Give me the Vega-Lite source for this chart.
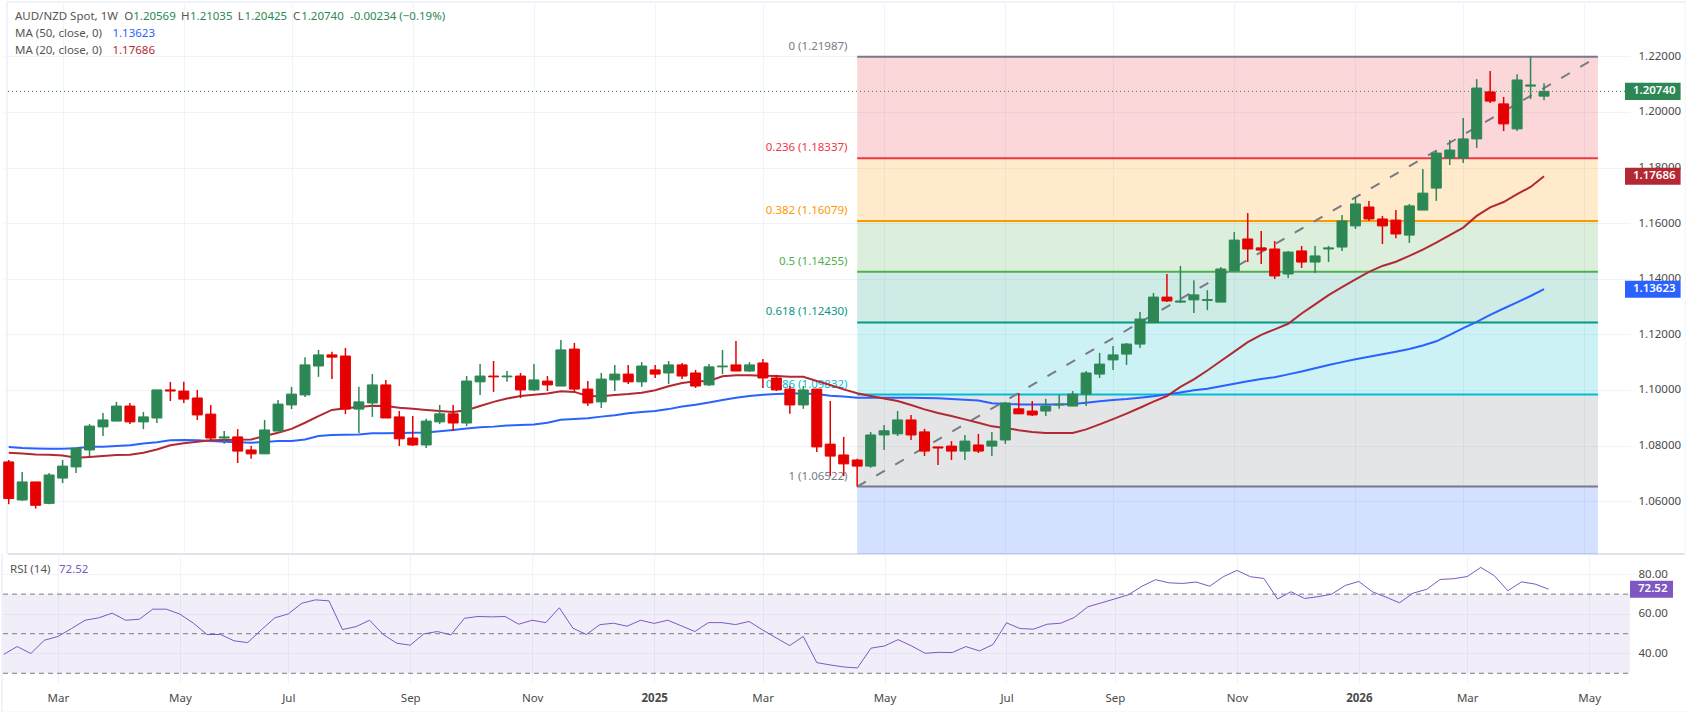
{
  "$schema": "https://vega.github.io/schema/vega-lite/v6.json",
  "padding": 0,
  "background": "white",
  "spacing": 0,
  "bounds": "flush",
  "config": {
    "view": {"stroke": null},
    "axis": {"labelFont": "Noto Sans", "labelFontSize": 11.5, "labelColor": "#4a4a4a", "gridColor": "#f0f3fa", "gridOpacity": 1, "ticks": false, "domain": false, "title": null},
    "text": {"font": "Noto Sans", "fontSize": 11.5}
  },
  "datasets": {
    "weeks": [
      {"date":"2024-02-05","open":1.0741,"high":1.0748,"low":1.0589,"close":1.0609,"ma50":1.0795,"ma20":1.0774,"rsi":39.6},
      {"date":"2024-02-12","open":1.0604,"high":1.0705,"low":1.0601,"close":1.0669,"ma50":1.0791,"ma20":1.0771,"rsi":43.5},
      {"date":"2024-02-19","open":1.0669,"high":1.0669,"low":1.0573,"close":1.0585,"ma50":1.0789,"ma20":1.0768,"rsi":40.0},
      {"date":"2024-02-26","open":1.0592,"high":1.0701,"low":1.0589,"close":1.0694,"ma50":1.0788,"ma20":1.0767,"rsi":46.7},
      {"date":"2024-03-04","open":1.0683,"high":1.0748,"low":1.0665,"close":1.0726,"ma50":1.0788,"ma20":1.0764,"rsi":48.6},
      {"date":"2024-03-11","open":1.0723,"high":1.0791,"low":1.0701,"close":1.0791,"ma50":1.0790,"ma20":1.0756,"rsi":52.6},
      {"date":"2024-03-18","open":1.0784,"high":1.0877,"low":1.0762,"close":1.0870,"ma50":1.0796,"ma20":1.0759,"rsi":56.8},
      {"date":"2024-03-25","open":1.0867,"high":1.0917,"low":1.0834,"close":1.0892,"ma50":1.0796,"ma20":1.0762,"rsi":58.0},
      {"date":"2024-04-01","open":1.0888,"high":1.0957,"low":1.0888,"close":1.0942,"ma50":1.0798,"ma20":1.0766,"rsi":60.4},
      {"date":"2024-04-08","open":1.0942,"high":1.0953,"low":1.0877,"close":1.0885,"ma50":1.0801,"ma20":1.0767,"rsi":56.8},
      {"date":"2024-04-15","open":1.0885,"high":1.0921,"low":1.0859,"close":1.0903,"ma50":1.0807,"ma20":1.0774,"rsi":57.3},
      {"date":"2024-04-22","open":1.0899,"high":1.1000,"low":1.0881,"close":1.1000,"ma50":1.0812,"ma20":1.0786,"rsi":62.4},
      {"date":"2024-04-29","open":1.1000,"high":1.1029,"low":1.0960,"close":1.0996,"ma50":1.0819,"ma20":1.0801,"rsi":62.4},
      {"date":"2024-05-06","open":1.0996,"high":1.1029,"low":1.0953,"close":1.0967,"ma50":1.0820,"ma20":1.0808,"rsi":59.9},
      {"date":"2024-05-13","open":1.0971,"high":1.1000,"low":1.0892,"close":1.0910,"ma50":1.0819,"ma20":1.0814,"rsi":55.3},
      {"date":"2024-05-20","open":1.0913,"high":1.0946,"low":1.0820,"close":1.0827,"ma50":1.0816,"ma20":1.0819,"rsi":49.6},
      {"date":"2024-05-27","open":1.0827,"high":1.0852,"low":1.0806,"close":1.0831,"ma50":1.0814,"ma20":1.0820,"rsi":49.6},
      {"date":"2024-06-03","open":1.0831,"high":1.0859,"low":1.0737,"close":1.0780,"ma50":1.0812,"ma20":1.0821,"rsi":46.4},
      {"date":"2024-06-10","open":1.0784,"high":1.0798,"low":1.0752,"close":1.0770,"ma50":1.0810,"ma20":1.0822,"rsi":45.5},
      {"date":"2024-06-17","open":1.0770,"high":1.0892,"low":1.0770,"close":1.0856,"ma50":1.0813,"ma20":1.0834,"rsi":51.9},
      {"date":"2024-06-24","open":1.0852,"high":1.0964,"low":1.0852,"close":1.0949,"ma50":1.0816,"ma20":1.0846,"rsi":58.0},
      {"date":"2024-07-01","open":1.0946,"high":1.1011,"low":1.0931,"close":1.0985,"ma50":1.0816,"ma20":1.0860,"rsi":60.0},
      {"date":"2024-07-08","open":1.0982,"high":1.1118,"low":1.0975,"close":1.1090,"ma50":1.0822,"ma20":1.0882,"rsi":65.4},
      {"date":"2024-07-15","open":1.1086,"high":1.1144,"low":1.1047,"close":1.1126,"ma50":1.0834,"ma20":1.0906,"rsi":67.1},
      {"date":"2024-07-22","open":1.1126,"high":1.1137,"low":1.1039,"close":1.1118,"ma50":1.0838,"ma20":1.0928,"rsi":66.6},
      {"date":"2024-07-29","open":1.1122,"high":1.1151,"low":1.0913,"close":1.0931,"ma50":1.0839,"ma20":1.0934,"rsi":52.1},
      {"date":"2024-08-05","open":1.0931,"high":1.1011,"low":1.0845,"close":1.0957,"ma50":1.0840,"ma20":1.0939,"rsi":53.6},
      {"date":"2024-08-12","open":1.0953,"high":1.1057,"low":1.0903,"close":1.1018,"ma50":1.0844,"ma20":1.0943,"rsi":56.8},
      {"date":"2024-08-19","open":1.1018,"high":1.1036,"low":1.0899,"close":1.0899,"ma50":1.0844,"ma20":1.0942,"rsi":49.6},
      {"date":"2024-08-26","open":1.0903,"high":1.0924,"low":1.0798,"close":1.0824,"ma50":1.0845,"ma20":1.0936,"rsi":45.2},
      {"date":"2024-09-02","open":1.0827,"high":1.0906,"low":1.0798,"close":1.0802,"ma50":1.0846,"ma20":1.0932,"rsi":44.2},
      {"date":"2024-09-09","open":1.0802,"high":1.0896,"low":1.0791,"close":1.0888,"ma50":1.0847,"ma20":1.0928,"rsi":49.9},
      {"date":"2024-09-16","open":1.0885,"high":1.0946,"low":1.0877,"close":1.0914,"ma50":1.0851,"ma20":1.0924,"rsi":51.1},
      {"date":"2024-09-23","open":1.0914,"high":1.0946,"low":1.0852,"close":1.0881,"ma50":1.0856,"ma20":1.0921,"rsi":49.4},
      {"date":"2024-09-30","open":1.0881,"high":1.1050,"low":1.0870,"close":1.1032,"ma50":1.0861,"ma20":1.0927,"rsi":57.8},
      {"date":"2024-10-07","open":1.1029,"high":1.1093,"low":1.0982,"close":1.1050,"ma50":1.0866,"ma20":1.0942,"rsi":58.7},
      {"date":"2024-10-14","open":1.1050,"high":1.1104,"low":1.0993,"close":1.1047,"ma50":1.0868,"ma20":1.0957,"rsi":58.5},
      {"date":"2024-10-21","open":1.1047,"high":1.1068,"low":1.1029,"close":1.1050,"ma50":1.0872,"ma20":1.0969,"rsi":58.7},
      {"date":"2024-10-28","open":1.1050,"high":1.1061,"low":1.0971,"close":1.1000,"ma50":1.0874,"ma20":1.0978,"rsi":54.8},
      {"date":"2024-11-04","open":1.1000,"high":1.1093,"low":1.0996,"close":1.1036,"ma50":1.0876,"ma20":1.0983,"rsi":56.8},
      {"date":"2024-11-11","open":1.1032,"high":1.1050,"low":1.0996,"close":1.1018,"ma50":1.0882,"ma20":1.0987,"rsi":55.6},
      {"date":"2024-11-18","open":1.1014,"high":1.1180,"low":1.1014,"close":1.1144,"ma50":1.0893,"ma20":1.0995,"rsi":63.1},
      {"date":"2024-11-25","open":1.1147,"high":1.1169,"low":1.0993,"close":1.1003,"ma50":1.0895,"ma20":1.0993,"rsi":52.8},
      {"date":"2024-12-02","open":1.1003,"high":1.1032,"low":1.0942,"close":1.0953,"ma50":1.0898,"ma20":1.0978,"rsi":49.6},
      {"date":"2024-12-09","open":1.0957,"high":1.1061,"low":1.0935,"close":1.1039,"ma50":1.0904,"ma20":1.0977,"rsi":54.6},
      {"date":"2024-12-16","open":1.1036,"high":1.1090,"low":1.0996,"close":1.1057,"ma50":1.0909,"ma20":1.0982,"rsi":55.3},
      {"date":"2024-12-23","open":1.1057,"high":1.1090,"low":1.1021,"close":1.1029,"ma50":1.0916,"ma20":1.0985,"rsi":53.8},
      {"date":"2024-12-30","open":1.1029,"high":1.1100,"low":1.1011,"close":1.1086,"ma50":1.0921,"ma20":1.0990,"rsi":56.8},
      {"date":"2025-01-06","open":1.1072,"high":1.1090,"low":1.1043,"close":1.1057,"ma50":1.0924,"ma20":1.0999,"rsi":55.2},
      {"date":"2025-01-13","open":1.1061,"high":1.1104,"low":1.1021,"close":1.1090,"ma50":1.0931,"ma20":1.1013,"rsi":56.8},
      {"date":"2025-01-20","open":1.1090,"high":1.1097,"low":1.1039,"close":1.1050,"ma50":1.0940,"ma20":1.1025,"rsi":54.0},
      {"date":"2025-01-27","open":1.1061,"high":1.1072,"low":1.1007,"close":1.1014,"ma50":1.0947,"ma20":1.1031,"rsi":51.1},
      {"date":"2025-02-03","open":1.1018,"high":1.1093,"low":1.1014,"close":1.1083,"ma50":1.0955,"ma20":1.1032,"rsi":55.6},
      {"date":"2025-02-10","open":1.1083,"high":1.1144,"low":1.1057,"close":1.1086,"ma50":1.0964,"ma20":1.1049,"rsi":55.6},
      {"date":"2025-02-17","open":1.1090,"high":1.1176,"low":1.1068,"close":1.1068,"ma50":1.0972,"ma20":1.1053,"rsi":54.6},
      {"date":"2025-02-24","open":1.1068,"high":1.1100,"low":1.1065,"close":1.1090,"ma50":1.0978,"ma20":1.1053,"rsi":56.2},
      {"date":"2025-03-03","open":1.1097,"high":1.1111,"low":1.1007,"close":1.1043,"ma50":1.0983,"ma20":1.1051,"rsi":51.9},
      {"date":"2025-03-10","open":1.1043,"high":1.1054,"low":1.0996,"close":1.1000,"ma50":1.0985,"ma20":1.1050,"rsi":47.9},
      {"date":"2025-03-17","open":1.1003,"high":1.1014,"low":1.0914,"close":1.0946,"ma50":1.0987,"ma20":1.1047,"rsi":44.0},
      {"date":"2025-03-24","open":1.0946,"high":1.1014,"low":1.0932,"close":1.1000,"ma50":1.0987,"ma20":1.1047,"rsi":48.6},
      {"date":"2025-03-31","open":1.1003,"high":1.1003,"low":1.0777,"close":1.0795,"ma50":1.0985,"ma20":1.1032,"rsi":35.4},
      {"date":"2025-04-07","open":1.0805,"high":1.0960,"low":1.0690,"close":1.0762,"ma50":1.0979,"ma20":1.1018,"rsi":34.2},
      {"date":"2025-04-14","open":1.0766,"high":1.0831,"low":1.0690,"close":1.0734,"ma50":1.0976,"ma20":1.1002,"rsi":33.2},
      {"date":"2025-04-21","open":1.0748,"high":1.0752,"low":1.06522,"close":1.0726,"ma50":1.0972,"ma20":1.0988,"rsi":32.7},
      {"date":"2025-04-28","open":1.0726,"high":1.0849,"low":1.0720,"close":1.0838,"ma50":1.0972,"ma20":1.0978,"rsi":42.7},
      {"date":"2025-05-05","open":1.0838,"high":1.0874,"low":1.0784,"close":1.0853,"ma50":1.0972,"ma20":1.0969,"rsi":43.8},
      {"date":"2025-05-12","open":1.0842,"high":1.0924,"low":1.0834,"close":1.0892,"ma50":1.0972,"ma20":1.0960,"rsi":47.0},
      {"date":"2025-05-19","open":1.0892,"high":1.0910,"low":1.0820,"close":1.0838,"ma50":1.0972,"ma20":1.0946,"rsi":43.8},
      {"date":"2025-05-26","open":1.0849,"high":1.0860,"low":1.0762,"close":1.0780,"ma50":1.0971,"ma20":1.0930,"rsi":40.1},
      {"date":"2025-06-02","open":1.0795,"high":1.0795,"low":1.0730,"close":1.0791,"ma50":1.0970,"ma20":1.0917,"rsi":40.6},
      {"date":"2025-06-09","open":1.0798,"high":1.0816,"low":1.0748,"close":1.0780,"ma50":1.0967,"ma20":1.0906,"rsi":40.5},
      {"date":"2025-06-16","open":1.0780,"high":1.0838,"low":1.0748,"close":1.0816,"ma50":1.0965,"ma20":1.0894,"rsi":43.5},
      {"date":"2025-06-23","open":1.0802,"high":1.0842,"low":1.0773,"close":1.0780,"ma50":1.0962,"ma20":1.0882,"rsi":41.3},
      {"date":"2025-06-30","open":1.0798,"high":1.0849,"low":1.0762,"close":1.0816,"ma50":1.0952,"ma20":1.0869,"rsi":44.5},
      {"date":"2025-07-07","open":1.0820,"high":1.0957,"low":1.0806,"close":1.0953,"ma50":1.0949,"ma20":1.0863,"rsi":55.5},
      {"date":"2025-07-14","open":1.0932,"high":1.0989,"low":1.0914,"close":1.0914,"ma50":1.0948,"ma20":1.0855,"rsi":52.6},
      {"date":"2025-07-21","open":1.0924,"high":1.0960,"low":1.0906,"close":1.0910,"ma50":1.0948,"ma20":1.0849,"rsi":52.3},
      {"date":"2025-07-28","open":1.0924,"high":1.0968,"low":1.0906,"close":1.0942,"ma50":1.0948,"ma20":1.0845,"rsi":54.8},
      {"date":"2025-08-04","open":1.0946,"high":1.0982,"low":1.0932,"close":1.0949,"ma50":1.0948,"ma20":1.0845,"rsi":55.3},
      {"date":"2025-08-11","open":1.0942,"high":1.0996,"low":1.0942,"close":1.0985,"ma50":1.0949,"ma20":1.0845,"rsi":58.2},
      {"date":"2025-08-18","open":1.0985,"high":1.1068,"low":1.0942,"close":1.1061,"ma50":1.0954,"ma20":1.0858,"rsi":63.6},
      {"date":"2025-08-25","open":1.1057,"high":1.1133,"low":1.1043,"close":1.1093,"ma50":1.0959,"ma20":1.0876,"rsi":65.6},
      {"date":"2025-09-01","open":1.1108,"high":1.1158,"low":1.1072,"close":1.1126,"ma50":1.0964,"ma20":1.0895,"rsi":67.6},
      {"date":"2025-09-08","open":1.1129,"high":1.1169,"low":1.1090,"close":1.1165,"ma50":1.0967,"ma20":1.0915,"rsi":69.7},
      {"date":"2025-09-15","open":1.1165,"high":1.1280,"low":1.1151,"close":1.1255,"ma50":1.0972,"ma20":1.0936,"rsi":74.0},
      {"date":"2025-09-22","open":1.1242,"high":1.1349,"low":1.1242,"close":1.1334,"ma50":1.0977,"ma20":1.0958,"rsi":77.3},
      {"date":"2025-09-29","open":1.1334,"high":1.1417,"low":1.1316,"close":1.1320,"ma50":1.0984,"ma20":1.0978,"rsi":75.7},
      {"date":"2025-10-06","open":1.1316,"high":1.1446,"low":1.1313,"close":1.1320,"ma50":1.0991,"ma20":1.1011,"rsi":75.4},
      {"date":"2025-10-13","open":1.1324,"high":1.1395,"low":1.1277,"close":1.1342,"ma50":1.0999,"ma20":1.1038,"rsi":76.1},
      {"date":"2025-10-20","open":1.1322,"high":1.1359,"low":1.1287,"close":1.1325,"ma50":1.1004,"ma20":1.1070,"rsi":74.0},
      {"date":"2025-10-27","open":1.1316,"high":1.1442,"low":1.1316,"close":1.1435,"ma50":1.1013,"ma20":1.1104,"rsi":78.8},
      {"date":"2025-11-03","open":1.1428,"high":1.1568,"low":1.1428,"close":1.1539,"ma50":1.1022,"ma20":1.1138,"rsi":82.0},
      {"date":"2025-11-10","open":1.1543,"high":1.1636,"low":1.1460,"close":1.1507,"ma50":1.1031,"ma20":1.1172,"rsi":78.8},
      {"date":"2025-11-17","open":1.1511,"high":1.1572,"low":1.1453,"close":1.1503,"ma50":1.1039,"ma20":1.1198,"rsi":77.9},
      {"date":"2025-11-24","open":1.1507,"high":1.1536,"low":1.1399,"close":1.1410,"ma50":1.1046,"ma20":1.1218,"rsi":67.5},
      {"date":"2025-12-01","open":1.1417,"high":1.1500,"low":1.1403,"close":1.1496,"ma50":1.1056,"ma20":1.1238,"rsi":71.2},
      {"date":"2025-12-08","open":1.1500,"high":1.1518,"low":1.1439,"close":1.1460,"ma50":1.1066,"ma20":1.1275,"rsi":67.8},
      {"date":"2025-12-15","open":1.1460,"high":1.1518,"low":1.1421,"close":1.1482,"ma50":1.1078,"ma20":1.1308,"rsi":68.7},
      {"date":"2025-12-22","open":1.1507,"high":1.1518,"low":1.1460,"close":1.1511,"ma50":1.1090,"ma20":1.1341,"rsi":70.0},
      {"date":"2025-12-29","open":1.1514,"high":1.1629,"low":1.1500,"close":1.1608,"ma50":1.1100,"ma20":1.1370,"rsi":74.4},
      {"date":"2026-01-05","open":1.1590,"high":1.1694,"low":1.1579,"close":1.1669,"ma50":1.1110,"ma20":1.1398,"rsi":76.4},
      {"date":"2026-01-12","open":1.1658,"high":1.1680,"low":1.1608,"close":1.1615,"ma50":1.1119,"ma20":1.1425,"rsi":71.2},
      {"date":"2026-01-19","open":1.1615,"high":1.1626,"low":1.1525,"close":1.1590,"ma50":1.1128,"ma20":1.1446,"rsi":68.5},
      {"date":"2026-01-26","open":1.1611,"high":1.1647,"low":1.1546,"close":1.1561,"ma50":1.1137,"ma20":1.1461,"rsi":65.6},
      {"date":"2026-02-02","open":1.1557,"high":1.1669,"low":1.1529,"close":1.1662,"ma50":1.1147,"ma20":1.1482,"rsi":70.5},
      {"date":"2026-02-09","open":1.1647,"high":1.1795,"low":1.1647,"close":1.1708,"ma50":1.1160,"ma20":1.1505,"rsi":72.4},
      {"date":"2026-02-16","open":1.1726,"high":1.1860,"low":1.1680,"close":1.1852,"ma50":1.1175,"ma20":1.1530,"rsi":77.4},
      {"date":"2026-02-23","open":1.1834,"high":1.1899,"low":1.1809,"close":1.1863,"ma50":1.1198,"ma20":1.1557,"rsi":77.8},
      {"date":"2026-03-02","open":1.1834,"high":1.1978,"low":1.1816,"close":1.1903,"ma50":1.1222,"ma20":1.1584,"rsi":78.9},
      {"date":"2026-03-09","open":1.1903,"high":1.2118,"low":1.1870,"close":1.2086,"ma50":1.1245,"ma20":1.1626,"rsi":83.5},
      {"date":"2026-03-16","open":1.2072,"high":1.2147,"low":1.2032,"close":1.2039,"ma50":1.1270,"ma20":1.1657,"rsi":79.3},
      {"date":"2026-03-23","open":1.2029,"high":1.2054,"low":1.1931,"close":1.1957,"ma50":1.1293,"ma20":1.1676,"rsi":71.7},
      {"date":"2026-03-30","open":1.1939,"high":1.2136,"low":1.1931,"close":1.2115,"ma50":1.1315,"ma20":1.1704,"rsi":76.2},
      {"date":"2026-04-06","open":1.2093,"high":1.21987,"low":1.2046,"close":1.2097,"ma50":1.1338,"ma20":1.1730,"rsi":75.1},
      {"date":"2026-04-13","open":1.20569,"high":1.21035,"low":1.20425,"close":1.2074,"ma50":1.13623,"ma20":1.17686,"rsi":72.52}
    ],
    "zones": [
      {"date":"2025-04-21","end":"2026-05-11","price":1.21987,"bottom":1.18337,"level":"0.236"},
      {"date":"2025-04-21","end":"2026-05-11","price":1.18337,"bottom":1.16079,"level":"0.382"},
      {"date":"2025-04-21","end":"2026-05-11","price":1.16079,"bottom":1.14255,"level":"0.5"},
      {"date":"2025-04-21","end":"2026-05-11","price":1.14255,"bottom":1.1243,"level":"0.618"},
      {"date":"2025-04-21","end":"2026-05-11","price":1.1243,"bottom":1.09832,"level":"0.786"},
      {"date":"2025-04-21","end":"2026-05-11","price":1.09832,"bottom":1.06522,"level":"1"},
      {"date":"2025-04-21","end":"2026-05-11","price":1.06522,"bottom":0.96966,"level":"1.618"}
    ],
    "levels": [
      {"date":"2025-04-21","end":"2026-05-11","labelDate":"2025-04-16","price":1.21987,"level":"0","label":"0 (1.21987)"},
      {"date":"2025-04-21","end":"2026-05-11","labelDate":"2025-04-16","price":1.18337,"level":"0.236","label":"0.236 (1.18337)"},
      {"date":"2025-04-21","end":"2026-05-11","labelDate":"2025-04-16","price":1.16079,"level":"0.382","label":"0.382 (1.16079)"},
      {"date":"2025-04-21","end":"2026-05-11","labelDate":"2025-04-16","price":1.14255,"level":"0.5","label":"0.5 (1.14255)"},
      {"date":"2025-04-21","end":"2026-05-11","labelDate":"2025-04-16","price":1.1243,"level":"0.618","label":"0.618 (1.12430)"},
      {"date":"2025-04-21","end":"2026-05-11","labelDate":"2025-04-16","price":1.09832,"level":"0.786","label":"0.786 (1.09832)"},
      {"date":"2025-04-21","end":"2026-05-11","labelDate":"2025-04-16","price":1.06522,"level":"1","label":"1 (1.06522)"}
    ],
    "header": [
      {"date":"2024-02-08T06:00:00Z","price":1.23415,"kind":"label","label":"AUD/NZD Spot, 1W"},
      {"date":"2024-04-05T00:00:00Z","price":1.23415,"kind":"label","label":"O"},
      {"date":"2024-04-09T17:00:00Z","price":1.23415,"kind":"up","label":"1.20569"},
      {"date":"2024-05-04T12:00:00Z","price":1.23415,"kind":"label","label":"H"},
      {"date":"2024-05-09T05:00:00Z","price":1.23415,"kind":"up","label":"1.21035"},
      {"date":"2024-06-03T00:00:00Z","price":1.23415,"kind":"label","label":"L"},
      {"date":"2024-06-06T14:00:00Z","price":1.23415,"kind":"up","label":"1.20425"},
      {"date":"2024-07-01T17:00:00Z","price":1.23415,"kind":"label","label":"C"},
      {"date":"2024-07-06T00:00:00Z","price":1.23415,"kind":"up","label":"1.20740"},
      {"date":"2024-07-31T10:00:00Z","price":1.23415,"kind":"up","label":"-0.00234 (−0.19%)"},
      {"date":"2024-02-08T06:00:00Z","price":1.22804,"kind":"label","label":"MA (50, close, 0)"},
      {"date":"2024-03-29T22:00:00Z","price":1.22804,"kind":"ma50","label":"1.13623"},
      {"date":"2024-02-08T06:00:00Z","price":1.22192,"kind":"label","label":"MA (20, close, 0)"},
      {"date":"2024-03-29T22:00:00Z","price":1.22192,"kind":"ma20","label":"1.17686"}
    ],
    "tags": [
      {"date":"2026-05-25T02:00:00Z","end":"2026-06-22T23:40:00Z","labelDate":"2026-05-29T05:00:00Z","price":1.2074,"top":1.21046,"bottom":1.20434,"kind":"up","label":"1.20740"},
      {"date":"2026-05-25T02:00:00Z","end":"2026-06-22T23:40:00Z","labelDate":"2026-05-29T05:00:00Z","price":1.17686,"top":1.17992,"bottom":1.1738,"kind":"ma20","label":"1.17686"},
      {"date":"2026-05-25T02:00:00Z","end":"2026-06-22T23:40:00Z","labelDate":"2026-05-29T05:00:00Z","price":1.13623,"top":1.13929,"bottom":1.13317,"kind":"ma50","label":"1.13623"}
    ]
  },
  "vconcat": [
    {
      "width": 1627,
      "height": 551,
      "encoding": {
        "x": {
          "field": "date",
          "type": "temporal",
          "scale": {"type": "utc", "domain": ["2024-02-04T15:00:00Z", "2026-05-25T02:00:00Z"]},
          "axis": {
            "labels": false,
            "grid": true,
            "values": ["2024-03-04","2024-05-06","2024-07-01","2024-09-02","2024-11-04","2025-01-06","2025-03-03","2025-05-05","2025-07-07","2025-09-01","2025-11-03","2026-01-05","2026-03-02","2026-05-04"]
          }
        },
        "y": {
          "field": "price",
          "type": "quantitative",
          "title": null,
          "scale": {"domain": [1.04098, 1.23919], "zero": false, "nice": false},
          "axis": {
            "orient": "right",
            "grid": true,
            "values": [1.06,1.08,1.1,1.12,1.14,1.16,1.18,1.2,1.22],
            "format": ".5f",
            "labelPadding": 8,
            "labelAlign": "left"
          }
        }
      },
      "layer": [
        {
          "data": {"values": [
            {"date":"2024-02-03T14:12:00Z","end":"2024-02-04T15:00:00Z","price":1.23991,"bottom":1.04098},
            {"date":"2024-02-03T14:12:00Z","end":"2026-06-25T14:00:00Z","price":1.23991,"bottom":1.23919},
            {"date":"2026-06-25T02:00:00Z","end":"2026-06-25T14:00:00Z","price":1.23991,"bottom":1.04098}
          ]},
          "mark": {"type": "rect", "color": "#f0f3fa"},
          "encoding": {"x2": {"field": "end"}, "y2": {"field": "bottom"}}
        },
        {
          "data": {"values": [{"date":"2024-02-04T15:00:00Z","end":"2026-06-25T02:00:00Z","price":1.04098}]},
          "mark": {"type": "rule", "color": "#e0e3eb", "strokeWidth": 2},
          "encoding": {"x2": {"field": "end"}}
        },
        {
          "data": {"name": "zones"},
          "mark": {"type": "rect", "opacity": 0.2, "clip": true},
          "encoding": {
            "x2": {"field": "end"},
            "y2": {"field": "bottom"},
            "color": {
              "field": "level",
              "type": "nominal",
              "legend": null,
              "scale": {
                "domain": ["0","0.236","0.382","0.5","0.618","0.786","1","1.618"],
                "range": ["#787b86","#f23645","#ff9800","#4caf50","#089981","#00bcd4","#787b86","#2962ff"]
              }
            }
          }
        },
        {
          "data": {"name": "levels"},
          "mark": {"type": "rule", "strokeWidth": 2},
          "encoding": {
            "x2": {"field": "end"},
            "color": {
              "field": "level",
              "type": "nominal",
              "legend": null,
              "scale": {
                "domain": ["0","0.236","0.382","0.5","0.618","0.786","1","1.618"],
                "range": ["#787b86","#f23645","#ff9800","#4caf50","#089981","#00bcd4","#787b86","#2962ff"]
              }
            }
          }
        },
        {
          "data": {"name": "levels"},
          "mark": {"type": "text", "align": "right", "baseline": "bottom", "dy": -5},
          "encoding": {
            "x": {"field": "labelDate", "type": "temporal", "scale": {"type": "utc", "domain": ["2024-02-04T15:00:00Z", "2026-05-25T02:00:00Z"]}},
            "text": {"field": "label"},
            "color": {
              "field": "level",
              "type": "nominal",
              "legend": null,
              "scale": {
                "domain": ["0","0.236","0.382","0.5","0.618","0.786","1","1.618"],
                "range": ["#787b86","#f23645","#ff9800","#4caf50","#089981","#00bcd4","#787b86","#2962ff"]
              }
            }
          }
        },
        {
          "data": {"values": [{"date":"2025-04-21","end":"2026-05-11","price":1.06522,"priceEnd":1.21987}]},
          "mark": {"type": "rule", "color": "#787b86", "strokeWidth": 2, "strokeDash": [10, 12]},
          "encoding": {"x2": {"field": "end"}, "y2": {"field": "priceEnd"}}
        },
        {
          "data": {"values": [{"date":"2024-02-04T15:00:00Z","end":"2026-05-25T02:00:00Z","price":1.2074}]},
          "mark": {"type": "rule", "color": "#2d8755", "strokeWidth": 1, "strokeDash": [1, 3]},
          "encoding": {"x2": {"field": "end"}}
        },
        {
          "data": {"name": "weeks"},
          "mark": {"type": "line", "color": "#2962ff", "strokeWidth": 2, "clip": true},
          "encoding": {"y": {"field": "ma50", "type": "quantitative", "title": null, "axis": {"orient": "right"}}}
        },
        {
          "data": {"name": "weeks"},
          "mark": {"type": "line", "color": "#b22833", "strokeWidth": 2, "clip": true},
          "encoding": {"y": {"field": "ma20", "type": "quantitative", "title": null, "axis": {"orient": "right"}}}
        },
        {
          "data": {"name": "weeks"},
          "mark": {"type": "rule", "strokeWidth": 1.5, "clip": true},
          "encoding": {
            "y": {"field": "high", "type": "quantitative", "title": null, "axis": {"orient": "right"}},
            "y2": {"field": "low"},
            "color": {"condition": {"test": "datum.close >= datum.open", "value": "#2d8755"}, "value": "#e60000"}
          }
        },
        {
          "data": {"name": "weeks"},
          "mark": {"type": "bar", "size": 10, "strokeWidth": 1, "clip": true},
          "encoding": {
            "y": {"field": "open", "type": "quantitative", "title": null, "axis": {"orient": "right"}},
            "y2": {"field": "close"},
            "color": {"condition": {"test": "datum.close >= datum.open", "value": "#2d8755"}, "value": "#e60000"},
            "stroke": {"condition": {"test": "datum.close >= datum.open", "value": "#2d8755"}, "value": "#e60000"}
          }
        },
        {
          "data": {"name": "header"},
          "mark": {"type": "text", "align": "left", "baseline": "middle"},
          "encoding": {
            "text": {"field": "label"},
            "color": {
              "field": "kind",
              "type": "nominal",
              "legend": null,
              "scale": {"domain": ["label","up","ma50","ma20"], "range": ["#555555","#2d8755","#2962ff","#b22833"]}
            }
          }
        },
        {
          "data": {"name": "tags"},
          "mark": {"type": "rect"},
          "encoding": {
            "y": {"field": "top", "type": "quantitative", "title": null, "axis": {"orient": "right"}},
            "x2": {"field": "end"},
            "y2": {"field": "bottom"},
            "color": {
              "field": "kind",
              "type": "nominal",
              "legend": null,
              "scale": {"domain": ["label","up","ma50","ma20"], "range": ["#555555","#2d8755","#2962ff","#b22833"]}
            }
          }
        },
        {
          "data": {"name": "tags"},
          "mark": {"type": "text", "align": "left", "baseline": "middle", "color": "white", "fontWeight": 600},
          "encoding": {
            "x": {"field": "labelDate", "type": "temporal", "scale": {"type": "utc", "domain": ["2024-02-04T15:00:00Z", "2026-05-25T02:00:00Z"]}},
            "text": {"field": "label"}
          }
        }
      ],
      "resolve": {"scale": {"color": "independent"}}
    },
    {
      "width": 1627,
      "height": 129,
      "encoding": {
        "x": {
          "field": "date",
          "type": "temporal",
          "scale": {"type": "utc", "domain": ["2024-02-04T15:00:00Z", "2026-05-25T02:00:00Z"]},
          "axis": {
            "grid": true,
            "values": ["2024-03-04","2024-05-06","2024-07-01","2024-09-02","2024-11-04","2025-01-06","2025-03-03","2025-05-05","2025-07-07","2025-09-01","2025-11-03","2026-01-05","2026-03-02","2026-05-04"],
            "labelExpr": "utcmonth(datum.value) == 0 ? utcFormat(datum.value, '%Y') : utcFormat(datum.value, '%b')",
            "labelFontWeight": {"condition": {"test": "utcmonth(datum.value) == 0", "value": 700}, "value": 400},
            "labelPadding": 9,
            "labelOverlap": false
          }
        },
        "y": {
          "field": "price",
          "type": "quantitative",
          "title": null,
          "scale": {"domain": [25.09, 90.28], "zero": false, "nice": false},
          "axis": {
            "orient": "right",
            "grid": true,
            "values": [40, 60, 80],
            "format": ".2f",
            "labelPadding": 8,
            "labelAlign": "left"
          }
        }
      },
      "layer": [
        {
          "data": {"values": [
            {"date":"2024-02-03T14:12:00Z","end":"2024-02-04T15:00:00Z","price":90.28,"bottom":9.9},
            {"date":"2024-02-03T14:12:00Z","end":"2026-06-25T14:00:00Z","price":10.66,"bottom":9.9},
            {"date":"2026-06-25T02:00:00Z","end":"2026-06-25T14:00:00Z","price":90.28,"bottom":9.9}
          ]},
          "mark": {"type": "rect", "color": "#f0f3fa"},
          "encoding": {"x2": {"field": "end"}, "y2": {"field": "bottom"}}
        },
        {
          "data": {"values": [{"date":"2024-02-04T15:00:00Z","end":"2026-05-25T02:00:00Z","price":70,"bottom":30}]},
          "mark": {"type": "rect", "color": "#7e57c2", "opacity": 0.1},
          "encoding": {"x2": {"field": "end"}, "y2": {"field": "bottom"}}
        },
        {
          "data": {"values": [
            {"date":"2024-02-04T15:00:00Z","end":"2026-05-25T02:00:00Z","price":70},
            {"date":"2024-02-04T15:00:00Z","end":"2026-05-25T02:00:00Z","price":50},
            {"date":"2024-02-04T15:00:00Z","end":"2026-05-25T02:00:00Z","price":30}
          ]},
          "mark": {"type": "rule", "color": "#787b86", "strokeWidth": 1, "strokeDash": [5, 4]},
          "encoding": {"x2": {"field": "end"}}
        },
        {
          "data": {"name": "weeks"},
          "mark": {"type": "line", "color": "#7e57c2", "strokeWidth": 1, "clip": true},
          "encoding": {"y": {"field": "rsi", "type": "quantitative", "title": null, "axis": {"orient": "right"}}}
        },
        {
          "data": {"values": [
            {"date":"2024-02-08T06:00:00Z","price":82.2,"kind":"label","label":"RSI (14)"},
            {"date":"2024-03-04T13:40:00Z","price":82.2,"kind":"rsi","label":"72.52"}
          ]},
          "mark": {"type": "text", "align": "left", "baseline": "middle"},
          "encoding": {
            "text": {"field": "label"},
            "color": {
              "field": "kind",
              "type": "nominal",
              "legend": null,
              "scale": {"domain": ["label","rsi"], "range": ["#555555","#7e57c2"]}
            }
          }
        },
        {
          "data": {"values": [{"date":"2026-05-25T02:00:00Z","end":"2026-06-16T07:00:00Z","top":76.82,"bottom":68.22}]},
          "mark": {"type": "rect", "color": "#7e57c2"},
          "encoding": {
            "y": {"field": "top", "type": "quantitative", "title": null, "axis": {"orient": "right"}},
            "x2": {"field": "end"},
            "y2": {"field": "bottom"}
          }
        },
        {
          "data": {"values": [{"date":"2026-05-29T05:00:00Z","price":72.52,"label":"72.52"}]},
          "mark": {"type": "text", "align": "left", "baseline": "middle", "color": "white", "fontWeight": 600},
          "encoding": {"text": {"field": "label"}}
        }
      ]
    }
  ]
}
